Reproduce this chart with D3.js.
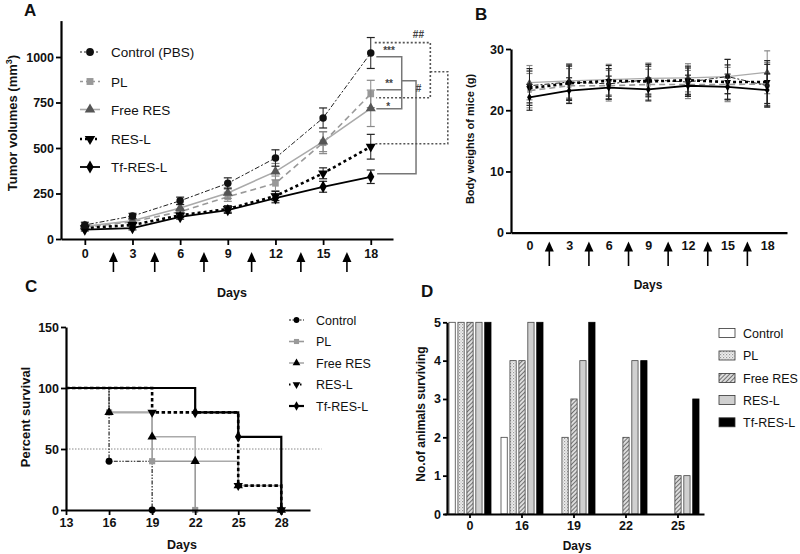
<!DOCTYPE html>
<html><head><meta charset="utf-8">
<script src="https://cdn.jsdelivr.net/npm/d3@7"></script>
<style>body{margin:0;background:#fff}svg{display:block}text{font-family:"Liberation Sans",Arial,sans-serif}</style>
</head><body><svg id="c" width="800" height="554"></svg>
<script>
// ---------- DATA ----------
const days = [0, 3, 6, 9, 12, 15, 18];
const groupNamesA = ["Control (PBS)", "PL", "Free RES", "RES-L", "Tf-RES-L"];
const groupNames = ["Control", "PL", "Free RES", "RES-L", "Tf-RES-L"];
// Panel A: tumor volumes (mm3)
const tumorControl = [77, 126, 210, 306, 445, 665, 1022];
const tumorControlErr = [15, 15, 20, 30, 45, 55, 85];
const tumorPL = [65, 95, 150, 232, 306, 529, 797];
const tumorPLErr = [10, 12, 15, 25, 40, 60, 75];
const tumorFreeRES = [70, 100, 170, 253, 370, 535, 718];
const tumorFreeRESErr = [10, 12, 18, 30, 45, 55, 100];
const tumorRESL = [60, 77, 130, 165, 236, 361, 507];
const tumorRESLErr = [8, 10, 12, 18, 25, 30, 68];
const tumorTf = [52, 60, 121, 159, 224, 287, 342];
const tumorTfErr = [8, 10, 12, 18, 25, 30, 37];
const tumorTicks = [0, 250, 500, 750, 1000];
const arrowDaysA = [1.8, 4.4, 7.5, 10.5, 13.6, 16.5];
// Panel B: body weights (g)
const weightControl = [24.0, 24.6, 24.3, 25.0, 24.6, 25.5, 24.0];
const weightPL = [23.2, 24.0, 24.0, 24.2, 24.2, 24.2, 24.3];
const weightFreeRES = [24.5, 24.8, 25.0, 25.2, 25.3, 25.5, 26.2];
const weightRESL = [23.6, 24.4, 24.8, 24.7, 24.9, 24.6, 24.6];
const weightTf = [22.1, 23.2, 23.7, 23.4, 24.0, 23.8, 23.3];
const weightErr = [2.8, 2.8, 2.5, 2.5, 2.3, 2.8, 3.5];
const weightTicks = [0, 10, 20, 30];
const arrowDaysB = [1.5, 4.5, 7.5, 10.5, 13.5, 16.5];
// Panel C: percent survival
const survTimes = [13, 16, 19, 22, 25, 28];
const survControl = [100, 40, 0];
const survPL = [100, 80, 40, 0];
const survFreeRES = [100, 80, 60, 40, 20, 0];
const survRESL = [100, 100, 80, 80, 20, 0];
const survTf = [100, 100, 100, 80, 60, 0];
const survTicksY = [0, 50, 100, 150];
// Panel D: number of animals surviving
const dDays = ["0", "16", "19", "22", "25"];
const dControl = [5, 2, 0, 0, 0];
const dPL = [5, 4, 2, 0, 0];
const dFreeRES = [5, 4, 3, 2, 1];
const dRESL = [5, 5, 4, 4, 1];
const dTf = [5, 5, 5, 4, 3];

// ---------- STYLES ----------
const styles = [
  {line: "#222", width: 1, dash: "2,2,5,2", mark: "#111", sym: d3.symbolCircle, rot: 0},
  {line: "#999", width: 1.6, dash: "6,4", mark: "#999", sym: d3.symbolSquare, rot: 0},
  {line: "#aaa", width: 1.6, dash: null, mark: "#555", sym: d3.symbolTriangle, rot: 0},
  {line: "#000", width: 2.6, dash: "3,3", mark: "#000", sym: d3.symbolTriangle, rot: 180},
  {line: "#000", width: 1.8, dash: null, mark: "#000", sym: d3.symbolDiamond, rot: 0}
];

const svg = d3.select("#c");
const defs = svg.append("defs");
const pStip = defs.append("pattern").attr("id", "stip").attr("width", 3).attr("height", 3).attr("patternUnits", "userSpaceOnUse");
pStip.append("rect").attr("width", 3).attr("height", 3).attr("fill", "#eee");
pStip.append("rect").attr("width", 1.2).attr("height", 1.2).attr("fill", "#999");
pStip.append("rect").attr("x", 1.5).attr("y", 1.5).attr("width", 1.2).attr("height", 1.2).attr("fill", "#bbb");
const pHatch = defs.append("pattern").attr("id", "hatch").attr("width", 3).attr("height", 3).attr("patternUnits", "userSpaceOnUse").attr("patternTransform", "rotate(45)");
pHatch.append("rect").attr("width", 3).attr("height", 3).attr("fill", "#ddd");
pHatch.append("line").attr("x1", 0).attr("y1", 0).attr("x2", 0).attr("y2", 3).attr("stroke", "#555").attr("stroke-width", 1.6);

function styleAxis(g, fs) {
  g.select(".domain").attr("stroke-width", 2.2).attr("stroke", "#000");
  g.selectAll(".tick line").attr("stroke-width", 1.8).attr("stroke", "#000");
  g.selectAll(".tick text").attr("font-size", fs || 12.5).attr("font-weight", "bold").attr("fill", "#111")
    .attr("font-family", '"Liberation Sans",Arial,sans-serif');
}
function marker(g, st, x, y, size, fill) {
  g.append("path").attr("d", d3.symbol().type(st.sym).size(size)())
    .attr("transform", `translate(${x},${y}) rotate(${st.rot})`)
    .attr("fill", fill || st.mark);
}
function arrow(g, x, yTip, yBase) {
  g.append("line").attr("x1", x).attr("x2", x).attr("y1", yTip + 6).attr("y2", yBase).attr("stroke", "#000").attr("stroke-width", 1.6);
  g.append("path").attr("d", `M${x},${yTip}L${x - 4.5},${yTip + 10}L${x + 4.5},${yTip + 10}Z`).attr("fill", "#000");
}
function label(x, y, txt, o) {
  o = o || {};
  const t = svg.append("text").attr("x", x).attr("y", y).text(txt)
    .attr("font-size", o.size || 12.5).attr("font-weight", o.weight || "bold")
    .attr("text-anchor", o.anchor || "middle").attr("fill", o.fill || "#111");
  if (o.rot) t.attr("transform", `rotate(-90,${x},${y})`);
  if (o.family) t.attr("font-family", o.family);
  return t;
}

// ---------- PANEL A ----------
const xA = d3.scaleLinear().domain([-1.5, 19.4]).range([61, 393]);
const yA = d3.scaleLinear().domain([0, 1200]).range([239, 20.6]);
const gA = svg.append("g");
gA.append("g").attr("transform", "translate(61,0)").call(d3.axisLeft(yA).tickValues(tumorTicks).tickFormat(d3.format("d")).tickSize(5).tickSizeOuter(0).tickPadding(2)).call(styleAxis);
gA.append("g").attr("transform", "translate(0,239)").call(d3.axisBottom(xA).tickValues(days).tickSize(6).tickSizeOuter(0).tickPadding(4)).call(styleAxis);
const tumorSeries = [
  [tumorControl, tumorControlErr], [tumorPL, tumorPLErr], [tumorFreeRES, tumorFreeRESErr],
  [tumorRESL, tumorRESLErr], [tumorTf, tumorTfErr]
];
function drawSeries(g, xs, ys, data, errs, st, msize, cap) {
  const lineGen = d3.line().x((d, i) => xs(days[i])).y(d => ys(d));
  g.append("path").datum(data).attr("d", lineGen).attr("fill", "none")
    .attr("stroke", st.line).attr("stroke-width", st.width).attr("stroke-dasharray", st.dash);
  data.forEach((v, i) => {
    const x = xs(days[i]);
    const y1 = ys(v + errs[i]), y2 = ys(v - errs[i]);
    const ec = st.line === "#000" || st.line === "#222" ? "#222" : "#888";
    g.append("line").attr("x1", x).attr("x2", x).attr("y1", y1).attr("y2", y2).attr("stroke", ec).attr("stroke-width", 1);
    g.append("line").attr("x1", x - cap).attr("x2", x + cap).attr("y1", y1).attr("y2", y1).attr("stroke", ec).attr("stroke-width", 1.2);
    g.append("line").attr("x1", x - cap).attr("x2", x + cap).attr("y1", y2).attr("y2", y2).attr("stroke", ec).attr("stroke-width", 1.2);
    marker(g, st, x, ys(v), msize);
  });
}
[1, 2, 3, 4, 0].forEach(k => drawSeries(gA, xA, yA, tumorSeries[k][0], tumorSeries[k][1], styles[k], 44, 4));
arrowDaysA.forEach(d => arrow(gA, xA(d), 252, 272));
// legend A
const legAy = [52, 81.5, 109.5, 139, 167];
groupNamesA.forEach((n, k) => {
  const st = styles[k];
  gA.append("line").attr("x1", 80).attr("x2", 100).attr("y1", legAy[k]).attr("y2", legAy[k])
    .attr("stroke", st.line).attr("stroke-width", st.width).attr("stroke-dasharray", k === 3 ? "2,3" : (k === 0 ? "2,2" : (k === 1 ? "3,3" : null)));
  marker(gA, st, 90, legAy[k], 48);
  gA.append("text").attr("x", 111).attr("y", legAy[k] + 5).text(n).attr("font-size", 13.5).attr("fill", "#111");
});
// significance brackets
const brSolid = [
  [[18.35, 1001], [19.95, 1001], [19.95, 715], [18.35, 715]],
  [[18.35, 820], [19.95, 820]],
  [[19.95, 870], [20.85, 870], [20.85, 358], [18.4, 358]]
];
const brDot = [
  [[18.25, 1079], [21.75, 1079], [21.75, 776], [18.35, 776]],
  [[21.75, 919], [22.85, 919], [22.85, 523], [18.25, 523]]
];
const bl = d3.line().x(d => xA(d[0])).y(d => yA(d[1]));
brSolid.forEach(p => gA.append("path").attr("d", bl(p)).attr("fill", "none").attr("stroke", "#777").attr("stroke-width", 1.5));
brDot.forEach(p => gA.append("path").attr("d", bl(p)).attr("fill", "none").attr("stroke", "#555").attr("stroke-width", 1.6).attr("stroke-dasharray", "2,2"));
const sigLabels = [["***", 19.15, 1040], ["**", 19.15, 855], ["*", 19.1, 730], ["#", 21.0, 830], ["##", 21.0, 1125]];
sigLabels.forEach(s => gA.append("text").attr("x", xA(s[1])).attr("y", yA(s[2]) + 4).text(s[0])
  .attr("text-anchor", "middle").attr("font-size", 10).attr("font-weight", "bold").attr("fill", "#444"));
// labels
const ylA = label(17, 123, "", {rot: true, size: 13});
ylA.append("tspan").text("Tumor volumes (mm");
ylA.append("tspan").text("3").attr("font-size", 9).attr("dy", -5);
ylA.append("tspan").text(")").attr("font-size", 13).attr("dy", 5);
label(232, 297, "Days", {size: 12.5});
label(24, 16, "A", {size: 17, anchor: "start", family: '"Liberation Serif",serif'});

// ---------- PANEL B ----------
const xB = d3.scaleLinear().domain([-1.4, 19.5]).range([511, 787]);
const yB = d3.scaleLinear().domain([0, 30]).range([232.7, 49]);
const gB = svg.append("g");
gB.append("g").attr("transform", "translate(511,0)").call(d3.axisLeft(yB).tickValues(weightTicks).tickSize(5).tickSizeOuter(0).tickPadding(2)).call(styleAxis);
gB.append("g").attr("transform", "translate(0,232.7)").call(d3.axisBottom(xB).tickValues(days).tickSize(0).tickSizeOuter(0).tickPadding(8)).call(styleAxis);
const weightSeries = [weightControl, weightPL, weightFreeRES, weightRESL, weightTf];
[2, 1, 0, 3, 4].forEach(k => {
  const st = Object.assign({}, styles[k]);
  if (k === 2) st.width = 1.2;
  drawSeries(gB, xB, yB, weightSeries[k], weightErr.map(e => e * (k === 4 ? 0.75 : 1)), st, 20, 3);
});
arrowDaysB.forEach(d => arrow(gB, xB(d), 241.5, 266));
label(474, 139, "Body weights of mice (g)", {rot: true, size: 11});
label(648, 289, "Days", {size: 12});
label(475, 20, "B", {size: 17, anchor: "start", family: '"Liberation Serif",serif'});

// ---------- PANEL C ----------
const xC = d3.scaleLinear().domain([13, 30]).range([66, 310]);
const yC = d3.scaleLinear().domain([0, 150]).range([510, 327]);
const gC = svg.append("g");
gC.append("line").attr("x1", xC(13)).attr("x2", xC(30.8)).attr("y1", yC(50)).attr("y2", yC(50))
  .attr("stroke", "#888").attr("stroke-width", 1).attr("stroke-dasharray", "1.5,1.5");
const survSeries = [survControl, survPL, survFreeRES, survRESL, survTf];
const cStyles = [
  {line: "#111", width: 1.1, dash: "1.5,1.5,1.5,1.5,4,1.5", mark: "#000", sym: d3.symbolCircle, rot: 0},
  {line: "#999", width: 1.6, dash: null, mark: "#999", sym: d3.symbolSquare, rot: 0},
  {line: "#aaa", width: 1.6, dash: null, mark: "#000", sym: d3.symbolTriangle, rot: 0},
  {line: "#000", width: 2.6, dash: "3.5,2.5", mark: "#000", sym: d3.symbolTriangle, rot: 180},
  {line: "#000", width: 2.2, dash: null, mark: "#000", sym: d3.symbolDiamond, rot: 0}
];
const stepLine = d3.line().x((d, i) => xC(survTimes[i])).y(d => yC(d)).curve(d3.curveStepAfter);
[1, 2, 0, 4, 3].forEach(k => {
  const st = cStyles[k];
  gC.append("path").datum(survSeries[k]).attr("d", stepLine).attr("fill", "none")
    .attr("stroke", st.line).attr("stroke-width", st.width).attr("stroke-dasharray", st.dash);
});
[1, 2, 0, 4, 3].forEach(k => {
  const st = cStyles[k];
  survSeries[k].forEach((v, i) => {
    if (i > 0 && v !== survSeries[k][i - 1]) marker(gC, st, xC(survTimes[i]), yC(v), 38);
  });
});
gC.append("g").attr("transform", "translate(66,0)").call(d3.axisLeft(yC).tickValues(survTicksY).tickSize(5).tickSizeOuter(0).tickPadding(2)).call(styleAxis);
gC.append("g").attr("transform", "translate(0,510)").call(d3.axisBottom(xC).tickValues(survTimes).tickSize(5).tickSizeOuter(0).tickPadding(3)).call(styleAxis);
const legCy = [320, 341.5, 363, 384.5, 406];
groupNames.forEach((n, k) => {
  const st = cStyles[k];
  gC.append("line").attr("x1", 289).attr("x2", 304).attr("y1", legCy[k]).attr("y2", legCy[k])
    .attr("stroke", st.line).attr("stroke-width", k === 3 ? 2 : st.width).attr("stroke-dasharray", k === 3 ? "1.5,4" : (k === 0 ? "2,1.5" : null));
  marker(gC, st, 296.5, legCy[k], 26, k === 1 ? "#999" : "#000");
  gC.append("text").attr("x", 316).attr("y", legCy[k] + 4.5).text(n).attr("font-size", 12.5).attr("fill", "#111");
});
label(30, 417, "Percent survival", {rot: true, size: 13});
label(182, 549, "Days", {size: 12.5});
label(25, 292, "C", {size: 17, anchor: "start", family: '"Liberation Serif",serif'});

// ---------- PANEL D ----------
const xD = d3.scaleBand().domain(dDays).range([444, 704]).padding(0);
const yD = d3.scaleLinear().domain([0, 5]).range([514, 322.3]);
const gD = svg.append("g");
const dSeries = [dControl, dPL, dFreeRES, dRESL, dTf];
const dFills = ["#fff", "url(#stip)", "url(#hatch)", "#d0d0d0", "#000"];
const xInner = d3.scaleBand().domain(d3.range(5)).range([-21, 21]).paddingInner(0.3);
dDays.forEach((day, j) => {
  dSeries.forEach((s, k) => {
    const v = s[j];
    if (v <= 0) return;
    gD.append("rect").attr("x", xD(day) + xD.bandwidth() / 2 + xInner(k)).attr("width", xInner.bandwidth())
      .attr("y", yD(v)).attr("height", yD(0) - yD(v))
      .attr("fill", dFills[k]).attr("stroke", k === 4 ? "#000" : "#444").attr("stroke-width", 0.8);
  });
});
gD.append("g").attr("transform", "translate(447,0)").call(d3.axisLeft(yD).ticks(5).tickSize(4).tickSizeOuter(0).tickPadding(2)).call(styleAxis);
gD.append("g").attr("transform", "translate(0,514)").call(d3.axisBottom(xD).tickSize(4).tickSizeOuter(0).tickPadding(3)).call(styleAxis);
const legDy = [333, 355.5, 378, 400, 422.3];
groupNames.forEach((n, k) => {
  gD.append("rect").attr("x", 719).attr("y", legDy[k] - 4.5).attr("width", 16).attr("height", 9)
    .attr("fill", dFills[k]).attr("stroke", "#333").attr("stroke-width", 0.8);
  gD.append("text").attr("x", 743).attr("y", legDy[k] + 4.5).text(n).attr("font-size", 12.5).attr("fill", "#111");
});
label(425, 414, "No.of animals surviving", {rot: true, size: 12});
label(577, 550, "Days", {size: 12});
label(421, 297, "D", {size: 17, anchor: "start", family: '"Liberation Serif",serif'});
</script></body></html>
